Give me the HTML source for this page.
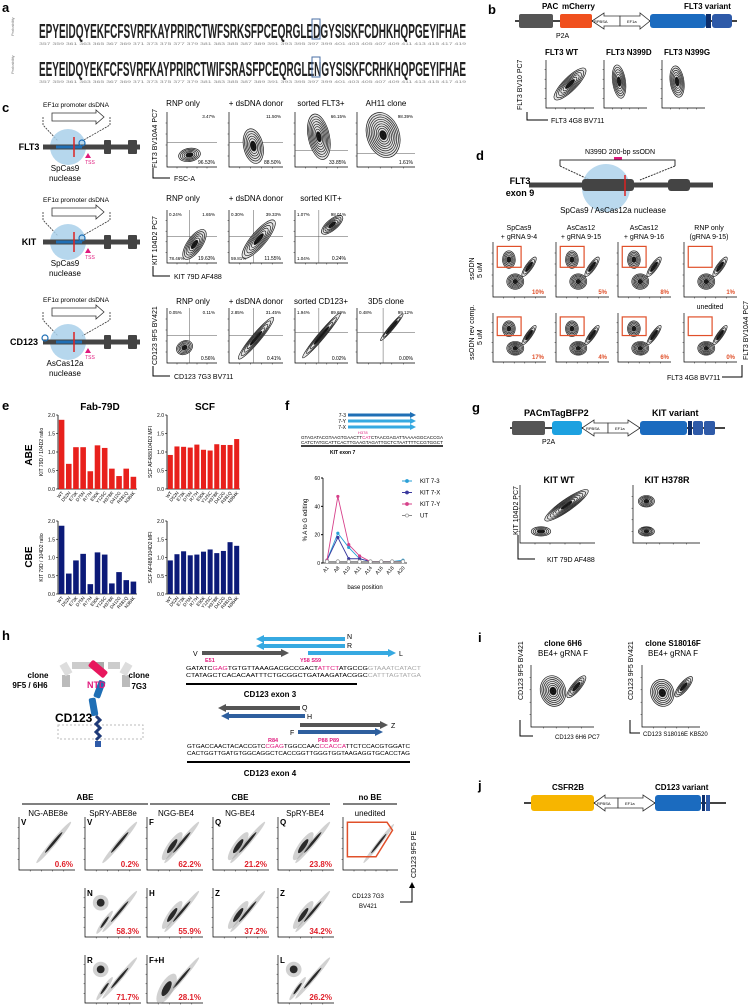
<!DOCTYPE html>
<html><head><meta charset="utf-8">
<style>
html,body{margin:0;padding:0;background:#fff;}
svg{display:block;font-family:"Liberation Sans",sans-serif;}
.lbl{font-weight:bold;font-size:13px;}
.t7{font-size:7px;}
.t8{font-size:8px;}
.t9{font-size:9px;}
.b{font-weight:bold;}
.pk{fill:#e0197d;}
</style></head>
<body>
<svg id="fig" width="750" height="1008" viewBox="0 0 750 1008">
<!-- panel a -->
<g>
<text x="2" y="12" class="lbl">a</text>
<text x="39" y="38" font-size="20" font-weight="bold" textLength="427" lengthAdjust="spacingAndGlyphs" fill="#222">EPYEIDQYEKFCFSVRFKAYPRIRCTWFSRKSFPCEQRGLEDGYSISKFCDHKHQPGEYIFHAE</text>
<text x="39" y="45" font-size="4" fill="#888" textLength="427" lengthAdjust="spacingAndGlyphs">357 359 361 363 365 367 369 371 373 375 377 379 381 383 385 387 389 391 393 395 397 399 401 403 405 407 409 411 413 415 417 419</text>
<text x="39" y="76" font-size="20" font-weight="bold" textLength="427" lengthAdjust="spacingAndGlyphs" fill="#222">EEYEIDQYEKFCFSVRFKAYPRIRCTWIFSRASFPCEQRGLENGYSISKFCRHKHQPGEYIFHAE</text>
<text x="39" y="83" font-size="4" fill="#888" textLength="427" lengthAdjust="spacingAndGlyphs">357 359 361 363 365 367 369 371 373 375 377 379 381 383 385 387 389 391 393 395 397 399 401 403 405 407 409 411 413 415 417 419</text>
<rect x="312" y="19" width="8" height="20" fill="none" stroke="#4a6fa5"/>
<rect x="312" y="57" width="8" height="20" fill="none" stroke="#4a6fa5"/>
<text x="14" y="36" font-size="4" fill="#777" transform="rotate(-90 14 36)">Probability</text>
<text x="14" y="74" font-size="4" fill="#777" transform="rotate(-90 14 74)">Probability</text>
</g>
<!-- panel b -->
<g>
<text x="488" y="14" class="lbl">b</text>
<line x1="515" y1="21" x2="737" y2="21" stroke="#444" stroke-width="2"/>
<rect x="519" y="14" width="34" height="14" rx="2" fill="#555"/>
<rect x="560" y="14" width="32" height="14" rx="2" fill="#f0501e"/>
<path d="M592 21 L604 13 L604 16 L620 16 L620 26 L604 26 L604 29 Z" fill="#fff" stroke="#333" stroke-width=".8"/>
<path d="M620 16 L640 16 L640 13 L650 21 L640 29 L640 26 L620 26 Z" fill="#fff" stroke="#333" stroke-width=".8"/>
<text x="594" y="23" font-size="4">RPBSA</text><text x="627" y="23" font-size="4">EF1a</text>
<rect x="650" y="14" width="56" height="14" rx="3" fill="#1b6bbf"/>
<rect x="706" y="14" width="5" height="14" fill="#0d2e6b"/><rect x="712" y="14" width="20" height="14" rx="3" fill="#2e5aa8"/>
<text x="542" y="9" class="t8 b">PAC</text><text x="562" y="9" class="t8 b">mCherry</text><text x="684" y="9" class="t8 b">FLT3 variant</text>
<text x="556" y="38" class="t7">P2A</text>
<text x="545" y="55" class="t8 b">FLT3 WT</text><text x="606" y="55" class="t8 b">FLT3 N399D</text><text x="664" y="55" class="t8 b">FLT3 N399G</text>
<text x="522" y="110" class="t7" transform="rotate(-90 522 110)">FLT3 BV10 PC7</text>
<path d="M527 112 L527 120 L548 120" fill="none" stroke="#000"/>
<text x="551" y="123" class="t7">FLT3 4G8 BV711</text>
</g>
<!-- panel c -->
<g>
<text x="2" y="112" class="lbl">c</text>
<g id="cdiag"></g>
<text x="183" y="106" class="t8" text-anchor="middle">RNP only</text><text x="256" y="106" class="t8" text-anchor="middle">+ dsDNA donor</text><text x="321" y="106" class="t8" text-anchor="middle">sorted FLT3+</text><text x="386" y="106" class="t8" text-anchor="middle">AH11 clone</text>
<text x="183" y="201" class="t8" text-anchor="middle">RNP only</text><text x="256" y="201" class="t8" text-anchor="middle">+ dsDNA donor</text><text x="321" y="201" class="t8" text-anchor="middle">sorted KIT+</text>
<text x="193" y="304" class="t8" text-anchor="middle">RNP only</text><text x="256" y="304" class="t8" text-anchor="middle">+ dsDNA donor</text><text x="321" y="304" class="t8" text-anchor="middle">sorted CD123+</text><text x="386" y="304" class="t8" text-anchor="middle">3D5 clone</text>
<text x="157" y="168" class="t7" transform="rotate(-90 157 168)">FLT3 BV10A4 PC7</text>
<text x="157" y="265" class="t7" transform="rotate(-90 157 265)">KIT 104D2 PC7</text>
<text x="157" y="365" class="t7" transform="rotate(-90 157 365)">CD123 9F5 BV421</text>
<path d="M153 168 L153 178 L170 178" fill="none" stroke="#000"/><text x="174" y="181" class="t7">FSC-A</text>
<path d="M153 266 L153 276 L170 276" fill="none" stroke="#000"/><text x="174" y="279" class="t7">KIT 79D AF488</text>
<path d="M153 366 L153 376 L170 376" fill="none" stroke="#000"/><text x="174" y="379" class="t7">CD123 7G3 BV711</text>
</g>
<!-- panel d -->
<g>
<text x="476" y="160" class="lbl">d</text>
<text x="620" y="154" class="t7" text-anchor="middle">N399D 200-bp ssODN</text>
<rect x="614" y="157" width="8" height="3" fill="#e0197d"/>
<path d="M560 166 L560 160 L675 160 L675 166" fill="none" stroke="#333"/>
<path d="M560 166 L590 180 M675 166 L640 180" stroke="#333" stroke-dasharray="2,1"/>
<circle cx="606" cy="188" r="24" fill="#a9d0ea" opacity=".8"/>
<line x1="529" y1="185" x2="713" y2="185" stroke="#444" stroke-width="5"/>
<rect x="582" y="179" width="52" height="12" rx="3" fill="#444"/><rect x="668" y="179" width="22" height="12" rx="3" fill="#444"/>
<line x1="625" y1="175" x2="625" y2="196" stroke="#d22" stroke-width="1.5"/>
<text x="520" y="184" class="t9 b" text-anchor="middle">FLT3</text><text x="520" y="196" class="t9 b" text-anchor="middle">exon 9</text>
<text x="613" y="213" class="t8" text-anchor="middle">SpCas9 / AsCas12a nuclease</text>
<text x="519" y="230" class="t7" text-anchor="middle">SpCas9</text><text x="519" y="239" class="t7" text-anchor="middle">+ gRNA 9-4</text>
<text x="581" y="230" class="t7" text-anchor="middle">AsCas12</text><text x="581" y="239" class="t7" text-anchor="middle">+ gRNA 9-15</text>
<text x="644" y="230" class="t7" text-anchor="middle">AsCas12</text><text x="644" y="239" class="t7" text-anchor="middle">+ gRNA 9-16</text>
<text x="709" y="230" class="t7" text-anchor="middle">RNP only</text><text x="709" y="239" class="t7" text-anchor="middle">(gRNA 9-15)</text>
<text x="710" y="309" class="t7" text-anchor="middle">unedited</text>
<text x="474" y="280" class="t7" transform="rotate(-90 474 280)">ssODN</text><text x="482" y="278" class="t7" transform="rotate(-90 482 278)">5 uM</text>
<text x="474" y="360" class="t7" transform="rotate(-90 474 360)">ssODN rev comp.</text><text x="482" y="345" class="t7" transform="rotate(-90 482 345)">5 uM</text>
<text x="667" y="380" class="t7">FLT3 4G8 BV711</text>
<path d="M722 377 L742 377 L742 365" fill="none" stroke="#000"/>
<text x="748" y="360" class="t7" transform="rotate(-90 748 360)">FLT3 BV10A4 PC7</text>
</g>
<!-- panel e -->
<g>
<text x="2" y="410" class="lbl">e</text>
<text x="100" y="410" font-size="10" class="b" text-anchor="middle">Fab-79D</text>
<text x="205" y="410" font-size="10" class="b" text-anchor="middle">SCF</text>
<text x="32" y="455" font-size="10" class="b" transform="rotate(-90 32 455)" text-anchor="middle">ABE</text>
<text x="32" y="557" font-size="10" class="b" transform="rotate(-90 32 557)" text-anchor="middle">CBE</text>
<g id="echarts"></g>
</g>
<!-- panel f -->
<g>
<text x="285" y="410" class="lbl">f</text>
<path d="M348 415 L410 415" stroke="#1f6fb5" stroke-width="3"/><path d="M410 412 L416 415 L410 418Z" fill="#1f6fb5"/>
<path d="M348 421 L410 421" stroke="#36a9e1" stroke-width="3"/><path d="M410 418 L416 421 L410 424Z" fill="#36a9e1"/>
<path d="M348 427 L410 427" stroke="#36a9e1" stroke-width="3"/><path d="M410 424 L416 427 L410 430Z" fill="#36a9e1"/>
<text x="346" y="417" font-size="5" text-anchor="end">7-3</text><text x="346" y="423" font-size="5" text-anchor="end">7-Y</text><text x="346" y="429" font-size="5" text-anchor="end">7-X</text>
<text x="358" y="434" font-size="4" class="pk">H378</text>
<text x="301" y="439" font-size="4.2" textLength="142" lengthAdjust="spacingAndGlyphs">GTAGATACGTAAGTGAACTT<tspan class="pk">CAT</tspan>CTAACGAGATTAAAAGGCACCGA</text>
<text x="301" y="444" font-size="4.2" textLength="142" lengthAdjust="spacingAndGlyphs">CATCTATGCATTCACTTGAAGTAGATTGCTCTAATTTTCCGTGGCT</text>
<line x1="301" y1="446" x2="443" y2="446" stroke="#000" stroke-width="1.5"/>
<text x="330" y="454" font-size="5" class="b">KIT exon 7</text>
<g id="fchart"></g>
</g>
<!-- panel g -->
<g>
<text x="472" y="412" class="lbl">g</text>
<line x1="510" y1="428" x2="725" y2="428" stroke="#444" stroke-width="2"/>
<rect x="512" y="421" width="33" height="14" rx="2" fill="#555"/>
<rect x="552" y="421" width="30" height="14" rx="3" fill="#1da1e0"/>
<path d="M582 428 L594 420 L594 423 L608 423 L608 433 L594 433 L594 436 Z" fill="#fff" stroke="#333" stroke-width=".8"/>
<path d="M608 423 L628 423 L628 420 L640 428 L628 436 L628 433 L608 433 Z" fill="#fff" stroke="#333" stroke-width=".8"/>
<text x="586" y="430" font-size="4">RPBSA</text><text x="615" y="430" font-size="4">EF1a</text>
<rect x="640" y="421" width="47" height="14" rx="3" fill="#1b6bbf"/><rect x="688" y="421" width="4" height="14" fill="#0d2e6b"/><rect x="693" y="421" width="10" height="14" rx="2" fill="#2e5aa8"/><rect x="704" y="421" width="11" height="14" rx="2" fill="#2e5aa8"/>
<text x="524" y="416" class="t9 b">PACmTagBFP2</text><text x="652" y="416" class="t9 b">KIT variant</text>
<text x="542" y="444" class="t7">P2A</text>
<text x="559" y="483" class="t9 b" text-anchor="middle">KIT WT</text><text x="667" y="483" class="t9 b" text-anchor="middle">KIT H378R</text>
<text x="518" y="535" class="t7" transform="rotate(-90 518 535)">KIT 104D2 PC7</text>
<path d="M518 535 L518 559 L535 559" fill="none" stroke="#000"/>
<text x="547" y="562" class="t7">KIT 79D AF488</text>
</g>
<!-- panel h -->
<g>
<text x="2" y="640" class="lbl">h</text>
<g>
<rect x="62" y="675" width="8" height="12" fill="#bbb"/><rect x="62" y="663" width="8" height="12" fill="#ddd" transform="rotate(-30 66 669)"/>
<rect x="72" y="662" width="22" height="7" fill="#ccc"/><rect x="94" y="662" width="10" height="7" fill="#aaa"/>
<rect x="122" y="675" width="8" height="12" fill="#bbb"/><rect x="122" y="663" width="8" height="12" fill="#ddd" transform="rotate(30 126 669)"/>
<rect x="108" y="662" width="12" height="7" fill="#ccc"/>
<rect x="88" y="665" width="20" height="8" rx="2" fill="#e8175d" transform="rotate(40 98 669)"/>
<rect x="96" y="680" width="7" height="18" rx="2" fill="#1f6fb5" transform="rotate(20 99 689)"/>
<rect x="90" y="698" width="7" height="18" rx="2" fill="#1f6fb5" transform="rotate(-10 93 707)"/>
<rect x="58" y="725" width="85" height="14" fill="none" stroke="#bbb" stroke-dasharray="2,2"/>
<path d="M96 716 L100 720 L96 724 L100 728 L96 732 L100 736 L96 740" fill="none" stroke="#1e3a78" stroke-width="3"/>
<rect x="95" y="741" width="6" height="6" fill="#2e5aa8"/>
<text x="55" y="722" font-size="12" class="b">CD123</text>
<text x="87" y="688" class="t9 b pk">NTD</text>
<text x="38" y="678" class="t8 b" text-anchor="middle">clone</text><text x="30" y="688" class="t8 b" text-anchor="middle">9F5 /  6H6</text>
<text x="139" y="678" class="t8 b" text-anchor="middle">clone</text><text x="139" y="689" class="t8 b" text-anchor="middle">7G3</text>
</g>
<g>
<path d="M345 639 L263 639" stroke="#36a9e1" stroke-width="4"/><path d="M264 635 L256 639 L264 643Z" fill="#36a9e1"/><text x="347" y="639" class="t7">N</text>
<path d="M345 646 L263 646" stroke="#36a9e1" stroke-width="4"/><path d="M264 642 L256 646 L264 650Z" fill="#36a9e1"/><text x="347" y="648" class="t7">R</text>
<path d="M202 653 L282 653" stroke="#555" stroke-width="4"/><path d="M281 649 L289 653 L281 657Z" fill="#555"/><text x="193" y="656" class="t7">V</text>
<path d="M308 653 L389 653" stroke="#36a9e1" stroke-width="4"/><path d="M388 649 L396 653 L388 657Z" fill="#36a9e1"/><text x="399" y="656" class="t7">L</text>
<text x="205" y="662" font-size="5.5" class="b pk">E51</text><text x="300" y="662" font-size="5.5" class="b pk">Y58 S59</text>
<text x="186" y="670" font-size="5.5" textLength="235" lengthAdjust="spacingAndGlyphs">GATATC<tspan class="pk">GAG</tspan>TGTGTTAAAGACGCCGACT<tspan class="pk">ATTCT</tspan>ATGCCG<tspan fill="#aaa">GTAAATCATACT</tspan></text>
<text x="186" y="677" font-size="5.5" textLength="235" lengthAdjust="spacingAndGlyphs">CTATAGCTCACACAATTTCTGCGGCTGATAAGATACGGC<tspan fill="#aaa">CATTTAGTATGA</tspan></text>
<line x1="186" y1="684" x2="357" y2="684" stroke="#000" stroke-width="2"/>
<text x="270" y="697" class="t8 b" text-anchor="middle">CD123 exon 3</text>
</g>
<g>
<path d="M300 708 L225 708" stroke="#555" stroke-width="4"/><path d="M226 704 L218 708 L226 712Z" fill="#555"/><text x="302" y="710" class="t7">Q</text>
<path d="M305 716 L228 716" stroke="#2e5f9e" stroke-width="4"/><path d="M229 712 L221 716 L229 720Z" fill="#2e5f9e"/><text x="307" y="719" class="t7">H</text>
<path d="M300 725 L381 725" stroke="#555" stroke-width="4"/><path d="M380 721 L388 725 L380 729Z" fill="#555"/><text x="391" y="728" class="t7">Z</text>
<path d="M298 732 L376 732" stroke="#2e5f9e" stroke-width="4"/><path d="M375 728 L383 732 L375 736Z" fill="#2e5f9e"/><text x="290" y="735" class="t7">F</text>
<text x="268" y="742" font-size="5.5" class="b pk">R84</text><text x="318" y="742" font-size="5.5" class="b pk">P88 P89</text>
<text x="187" y="748" font-size="5.5" textLength="223" lengthAdjust="spacingAndGlyphs">GTGACCAACTACACCGTC<tspan class="pk">CGAG</tspan>TGGCCAAC<tspan class="pk">CCACCA</tspan>TTCTCCACGTGGATC</text>
<text x="187" y="755" font-size="5.5" textLength="223" lengthAdjust="spacingAndGlyphs">CACTGGTTGATGTGGCAGGCTCACCGGTTGGGTGGTAAGAGGTGCACCTAG</text>
<line x1="187" y1="762" x2="410" y2="762" stroke="#000" stroke-width="2"/>
<text x="270" y="776" class="t8 b" text-anchor="middle">CD123 exon 4</text>
</g>
<text x="85" y="800" class="t8 b" text-anchor="middle">ABE</text><line x1="22" y1="804" x2="148" y2="804" stroke="#000"/>
<text x="240" y="800" class="t8 b" text-anchor="middle">CBE</text><line x1="150" y1="804" x2="330" y2="804" stroke="#000"/>
<text x="370" y="800" class="t8 b" text-anchor="middle">no BE</text><line x1="343" y1="804" x2="397" y2="804" stroke="#000"/>
<text x="48" y="816" class="t8" text-anchor="middle">NG-ABE8e</text><text x="113" y="816" class="t8" text-anchor="middle">SpRY-ABE8e</text><text x="176" y="816" class="t8" text-anchor="middle">NGG-BE4</text><text x="240" y="816" class="t8" text-anchor="middle">NG-BE4</text><text x="305" y="816" class="t8" text-anchor="middle">SpRY-BE4</text><text x="370" y="816" class="t8" text-anchor="middle">unedited</text>
<text x="416" y="878" class="t7" transform="rotate(-90 416 878)">CD123 9F5 PE</text>
<path d="M400 902 L412 902 L412 886" fill="none" stroke="#000"/><path d="M409 888 L412 882 L415 888Z"/>
<text x="368" y="898" font-size="6" text-anchor="middle">CD123 7G3</text><text x="368" y="908" font-size="6" text-anchor="middle">BV421</text>
</g>
<!-- panel i -->
<g>
<text x="478" y="642" class="lbl">i</text>
<text x="563" y="646" class="t8 b" text-anchor="middle">clone 6H6</text><text x="563" y="656" class="t8" text-anchor="middle">BE4+ gRNA F</text>
<text x="673" y="646" class="t8 b" text-anchor="middle">clone S18016F</text><text x="673" y="656" class="t8" text-anchor="middle">BE4+ gRNA F</text>
<text x="523" y="700" class="t7" transform="rotate(-90 523 700)">CD123 9F5 BV421</text>
<text x="633" y="700" class="t7" transform="rotate(-90 633 700)">CD123 9F5 BV421</text>
<path d="M520 720 L520 736 L533 736" fill="none" stroke="#000"/><text x="555" y="739" font-size="6">CD123 6H6 PC7</text>
<path d="M630 720 L630 733 L640 733" fill="none" stroke="#000"/><text x="643" y="736" font-size="6">CD123 S18016E KB520</text>
</g>
<!-- panel j -->
<g>
<text x="478" y="790" class="lbl">j</text>
<line x1="524" y1="803" x2="726" y2="803" stroke="#444" stroke-width="2"/>
<rect x="531" y="795" width="63" height="16" rx="3" fill="#f7b500"/>
<path d="M594 803 L605 795 L605 798 L618 798 L618 808 L605 808 L605 811 Z" fill="#fff" stroke="#333" stroke-width=".8"/>
<path d="M618 798 L643 798 L643 795 L655 803 L643 811 L643 808 L618 808 Z" fill="#fff" stroke="#333" stroke-width=".8"/>
<text x="597" y="805" font-size="4">RPBSA</text><text x="625" y="805" font-size="4">EF1a</text>
<rect x="655" y="795" width="46" height="16" rx="3" fill="#1b6bbf"/>
<rect x="702" y="795" width="3" height="16" fill="#0d2e6b"/><rect x="706" y="795" width="4" height="16" fill="#2e5aa8"/>
<text x="552" y="790" class="t8 b">CSFR2B</text><text x="655" y="790" class="t8 b">CD123 variant</text>
</g>
<g id="flows"></g>
</svg>
<script>
const NS="http://www.w3.org/2000/svg";
function mk(tag,attrs,parent){const e=document.createElementNS(NS,tag);for(const k in attrs)e.setAttribute(k,attrs[k]);parent.appendChild(e);return e;}

// ---- panel e data ----
const eCats=["WT","D52N","E73K","D75N","R77H","E90K","Y125C","H378R","D412G","R381Q","N384K"];
const abeFab=[1.87,0.68,1.13,1.13,0.48,1.18,1.11,0.55,0.35,0.55,0.33];
const abeScf=[0.92,1.15,1.14,1.12,1.20,1.06,1.04,1.21,1.19,1.19,1.35];
const cbeFab=[1.87,0.56,0.92,1.10,0.27,1.14,1.08,0.29,0.60,0.38,0.34];
const cbeScf=[0.92,1.09,1.17,1.06,1.08,1.16,1.22,1.12,1.18,1.42,1.32];
const eTicks=[0,0.5,1.0,1.5,2.0];

// ---- panel f data ----
const fBases=["A1","A8","A10","A11","A14","A16","A18","A20"];
const kit73=[2,21,11,3,1,1,1,2];
const kit7x=[2,18,3,3,1,1,1,1];
const kit7y=[2,47,13,5,1,1,1,1];
const utVals=[1,1,1,1,1,1,1,1];
const fTicks=[0,20,40,60];

const eg=document.getElementById('echarts');
function barChart(x0,x1,yTop,yBot,vals,color,ylab,name){
  const g=mk('g',{},eg);
  
  
  const y=v=>yBot-(v/2.0)*(yBot-yTop);
  const bw=(x1-x0)/vals.length;
  mk('line',{x1:x0,y1:yTop,x2:x0,y2:yBot,stroke:'#000','stroke-width':0.8},g);
  mk('line',{x1:x0,y1:yBot,x2:x1,y2:yBot,stroke:'#000','stroke-width':0.8},g);
  eTicks.forEach(t=>{
    mk('line',{x1:x0-2,y1:y(t),x2:x0,y2:y(t),stroke:'#000','stroke-width':0.6},g);
    const tx=mk('text',{x:x0-3,y:y(t)+2,'font-size':5,'text-anchor':'end'},g);tx.textContent=t.toFixed(1);
  });
  vals.forEach((v,i)=>{
    const r=mk('rect',{x:x0+i*bw+0.8,y:y(v),width:bw-1.6,height:yBot-y(v),fill:color},g);
    
    
    const cx=x0+i*bw+bw/2;
    const tl=mk('text',{x:cx+2,y:yBot+4,'font-size':4.5,'text-anchor':'end',transform:`rotate(-50 ${cx+2} ${yBot+4})`},g);tl.textContent=eCats[i];
  });
  const yl=mk('text',{x:x0-15,y:(yTop+yBot)/2,'font-size':5,'text-anchor':'middle',transform:`rotate(-90 ${x0-15} ${(yTop+yBot)/2})`},g);yl.textContent=ylab;
}
barChart(58,137,415,489,abeFab,'#e8201c','KIT 79D / 104D2 ratio','abe-fab-chart');
barChart(167,240,415,489,abeScf,'#e8201c','SCF AF488/104D2 MFI','abe-scf-chart');
barChart(58,137,521,594,cbeFab,'#0c1a78','KIT 79D / 104D2 ratio','cbe-fab-chart');
barChart(167,240,521,594,cbeScf,'#0c1a78','SCF AF488/104D2 MFI','cbe-scf-chart');

// line chart f
const fg=document.getElementById('fchart');
(function(){
  const x0=323,x1=407,yTop=478,yBot=563;
  const fy=v=>yBot-(v/60)*(yBot-yTop);
  const fx=i=>x0+4+i*((x1-x0-8)/(fBases.length-1));
  mk('line',{x1:x0,y1:yTop,x2:x0,y2:yBot,stroke:'#000','stroke-width':0.8},fg);
  mk('line',{x1:x0,y1:yBot,x2:x1,y2:yBot,stroke:'#000','stroke-width':0.8},fg);
  fTicks.forEach(t=>{mk('line',{x1:x0-2,y1:fy(t),x2:x0,y2:fy(t),stroke:'#000'},fg);const tx=mk('text',{x:x0-3,y:fy(t)+2,'font-size':5,'text-anchor':'end'},fg);tx.textContent=t;});
  fBases.forEach((b,i)=>{const tx=mk('text',{x:fx(i)+2,y:yBot+5,'font-size':5,'text-anchor':'end',transform:`rotate(-50 ${fx(i)+2} ${yBot+5})`},fg);tx.textContent=b;});
  const yl=mk('text',{x:307,y:520,'font-size':6,'text-anchor':'middle',transform:'rotate(-90 307 520)'},fg);yl.textContent='% A to G editing';
  const xl=mk('text',{x:365,y:589,'font-size':6,'text-anchor':'middle'},fg);xl.textContent='base position';
  const series=[[kit73,'#2a9fd6','KIT 7-3','circle'],[kit7x,'#3b3a9e','KIT 7-X','tri'],[kit7y,'#d6408a','KIT 7-Y','star'],[utVals,'#888','UT','open']];
  series.forEach((s,k)=>{
    const [vals,col,name,mkType]=s;
    const pts=vals.map((v,i)=>fx(i)+','+fy(v)).join(' ');
    const pl=mk('polyline',{points:pts,fill:'none',stroke:col,'stroke-width':0.9},fg);
    
    
    vals.forEach((v,i)=>{
      if(mkType==='open')mk('circle',{cx:fx(i),cy:fy(v),r:1.8,fill:'#fff',stroke:col,'stroke-width':.7},fg);
      else mk('circle',{cx:fx(i),cy:fy(v),r:1.6,fill:col},fg);
    });
    const ly=483+k*11.5;
    mk('line',{x1:402,y1:ly-2,x2:412,y2:ly-2,stroke:col},fg);
    mk('circle',{cx:407,cy:ly-2,r:1.6,fill:mkType==='open'?'#fff':col,stroke:col,'stroke-width':.6},fg);
    const lt=mk('text',{x:420,y:ly,'font-size':6},fg);lt.textContent=name;
  });
})();

// c diagrams
const cd=document.getElementById('cdiag');
[[147,'FLT3',107,'SpCas9',false],[242,'KIT',202,'SpCas9',false],[342,'CD123',302,'AsCas12a',true]].forEach(r=>{
  const [y,name,ty,nuc,left]=r;
  const g=mk('g',{},cd);
  
  
  let t=mk('text',{x:76,y:ty,'font-size':6.5,'text-anchor':'middle'},g);t.textContent='EF1\u03b1 promoter dsDNA';
  mk('path',{d:`M52 ${ty+6} L96 ${ty+6} L96 ${ty+3} L104 ${ty+10} L96 ${ty+17} L96 ${ty+14} L52 ${ty+14} Z`,fill:'#fff',stroke:'#333','stroke-width':.8},g);
  mk('path',{d:`M43 ${ty+10} L43 ${ty+18} L58 ${y-6} M110 ${ty+10} L110 ${ty+18} L82 ${y-6}`,fill:'none',stroke:'#333','stroke-dasharray':'2,1','stroke-width':.8},g);
  mk('circle',{cx:68,cy:y,r:18,fill:'#a9d0ea',opacity:.85},g);
  mk('line',{x1:43,y1:y,x2:140,y2:y,stroke:'#444','stroke-width':5},g);
  mk('rect',{x:104,y:y-7,width:7,height:14,rx:1,fill:'#444'},g);
  mk('rect',{x:128,y:y-7,width:9,height:14,rx:1,fill:'#444'},g);
  mk('line',{x1:56,y1:y,x2:82,y2:y,stroke:'#1f6fb5','stroke-width':3},g);
  mk('line',{x1:74,y1:y-10,x2:74,y2:y+10,stroke:'#d22','stroke-width':1.5},g);
  mk('circle',{cx:left?45:82,cy:y-4,r:3,fill:'none',stroke:'#1f6fb5','stroke-width':1.2},g);
  mk('path',{d:`M88 ${y+6} L91 ${y+11} L85 ${y+11}Z`,fill:'#e0197d'},g);
  t=mk('text',{x:90,y:y+17,'font-size':5,'text-anchor':'middle',fill:'#e0197d'},g);t.textContent='TSS';
  t=mk('text',{x:name==='CD123'?24:29,y:y+3,'font-size':9,'font-weight':'bold','text-anchor':'middle'},g);t.textContent=name;
  t=mk('text',{x:65,y:y+24,'font-size':8,'text-anchor':'middle'},g);t.textContent=nuc;
  t=mk('text',{x:65,y:y+34,'font-size':8,'text-anchor':'middle'},g);t.textContent='nuclease';
});

// flow plots (illustrative)
const fl=document.getElementById('flows');
function flow(name,x,y,w,h,blobs,opt){
  opt=opt||{};
  const g=mk('g',{},fl);
  
  
  mk('path',{d:`M${x} ${y} L${x} ${y+h} L${x+w} ${y+h}`,fill:'none',stroke:'#000','stroke-width':.7},g);
  for(let i=1;i<5;i++){mk('line',{x1:x-1.5,y1:y+h*i/5,x2:x,y2:y+h*i/5,stroke:'#000','stroke-width':.4},g);mk('line',{x1:x+w*i/5,y1:y+h,x2:x+w*i/5,y2:y+h+1.5,stroke:'#000','stroke-width':.4},g);}
  if(opt.q){if(opt.q[1]!=null)mk('line',{x1:x,y1:y+h*opt.q[1],x2:x+w,y2:y+h*opt.q[1],stroke:'#555','stroke-width':.5},g);if(opt.q[0]!=null)mk('line',{x1:x+w*opt.q[0],y1:y,x2:x+w*opt.q[0],y2:y+h,stroke:'#555','stroke-width':.5},g);}
  blobs.forEach(b=>{
    const [fx,fy,rx,ry,rot,n,solid]=b;
    const cx=x+w*fx,cy=y+h*fy;
    for(let k=0;k<n;k++){
      const s=1-k/n;
      const last=k===n-1;
      let fill,op,stroke;
      if(solid){fill=k===0?'#999':'#000';op=k===0?.45:.8;stroke='none';}
      else{fill=last||k>=n-2?'#111':(k===0?'#e4e4e4':'none');op=1;stroke='#222';}
      mk('ellipse',{cx:cx,cy:cy,rx:rx*w*s,ry:ry*h*s,transform:`rotate(${rot} ${cx} ${cy})`,fill:fill,'fill-opacity':op,stroke:stroke,'stroke-width':.7},g);
    }
  });
  if(opt.gate){const gt=opt.gate;mk('rect',{x:x+w*gt[0],y:y+h*gt[1],width:w*gt[2],height:h*gt[3],fill:'none',stroke:'#e0502a','stroke-width':1.2},g);}
  if(opt.poly){mk('path',{d:opt.poly.map((p,i)=>(i?'L':'M')+(x+w*p[0])+' '+(y+h*p[1])).join(' ')+'Z',fill:'none',stroke:'#e0502a','stroke-width':1.5},g);}
  if(opt.pct){const t=mk('text',{x:x+w-2,y:y+h-3,'font-size':opt.ps||5,'text-anchor':'end',fill:opt.pc||'#000','font-weight':opt.pc?'bold':'normal'},g);t.textContent=opt.pct;}
  if(opt.tl){const t=mk('text',{x:x+2,y:y+6,'font-size':opt.ps||4.5},g);t.textContent=opt.tl;}
  if(opt.tr){const t=mk('text',{x:x+w-2,y:y+6,'font-size':4.5,'text-anchor':'end'},g);t.textContent=opt.tr;}
  if(opt.bl){const t=mk('text',{x:x+2,y:y+h-3,'font-size':4.5},g);t.textContent=opt.bl;}
  if(opt.letter){const t=mk('text',{x:x+2,y:y+8,'font-size':8,'font-weight':'bold'},g);t.textContent=opt.letter;}
}
// b
flow('flow-flt3-wt',546,60,48,48,[[0.5,0.5,0.45,0.14,-45,7]]);
flow('flow-flt3-n399d',604,60,43,48,[[0.35,0.45,0.15,0.35,-8,7]]);
flow('flow-flt3-n399g',662,60,43,48,[[0.35,0.45,0.16,0.33,-8,7]]);
// c FLT3
const cx=[167,229,295,357],cw=[50,54,53,58];
flow('flow-flt3-rnp',cx[0],112,cw[0],55,[[0.45,0.78,0.22,0.12,-10,6]],{q:[null,0.55],tr:'3.47%',pct:'96.53%'});
flow('flow-flt3-donor',cx[1],112,cw[1],55,[[0.45,0.62,0.18,0.32,-12,7]],{q:[null,0.55],tr:'11.50%',pct:'88.50%'});
flow('flow-flt3-sorted',cx[2],112,cw[2],55,[[0.45,0.45,0.2,0.42,-12,9]],{q:[null,0.7],tr:'66.15%',pct:'33.85%'});
flow('flow-flt3-ah11',cx[3],112,cw[3],55,[[0.45,0.42,0.28,0.42,-18,10]],{q:[null,0.75],tr:'98.39%',pct:'1.61%'});
// KIT
flow('flow-kit-rnp',cx[0],210,cw[0],53,[[0.55,0.65,0.35,0.14,-55,7]],{q:[0.45,0.5],tl:'0.24%',tr:'1.65%',bl:'78.46%',pct:'19.63%'});
flow('flow-kit-donor',cx[1],210,cw[1],53,[[0.55,0.55,0.45,0.14,-50,7]],{q:[0.45,0.5],tl:'0.30%',tr:'39.33%',bl:'59.81%',pct:'11.55%'});
flow('flow-kit-sorted',cx[2],210,cw[2],53,[[0.7,0.28,0.25,0.1,-40,6]],{q:[0.45,0.5],tl:'1.07%',tr:'98.01%',bl:'1.04%',pct:'0.24%'});
// CD123
flow('flow-cd123-rnp',cx[0],308,cw[0],55,[[0.35,0.72,0.17,0.12,-30,6]],{q:[0.45,0.5],tl:'0.05%',tr:'0.11%',pct:'0.56%'});
flow('flow-cd123-donor',cx[1],308,cw[1],55,[[0.5,0.55,0.5,0.08,-50,6]],{q:[0.45,0.5],tl:'2.85%',tr:'31.45%',pct:'0.41%'});
flow('flow-cd123-sorted',cx[2],308,cw[2],55,[[0.5,0.5,0.55,0.06,-50,5]],{q:[0.45,0.45],tl:'1.94%',tr:'89.69%',pct:'0.02%'});
flow('flow-cd123-3d5',cx[3],308,cw[3],55,[[0.6,0.35,0.3,0.04,-50,4]],{q:[0.45,0.45],tl:'0.48%',tr:'99.12%',pct:'0.00%'});
// d
const dx=[493,556,618,684],dp1=['10%','5%','8%','1%'],dp2=['17%','4%','6%','0%'];
dx.forEach((x,i)=>{
  flow('flow-d-row1-'+(i+1),x,242,53,55,[[0.42,0.72,0.16,0.14,0,7],[0.3,0.32,0.12,0.16,0,i===3?0:6],[0.68,0.45,0.22,0.06,-55,4]],{gate:[0.08,0.08,0.45,0.38],pct:dp1[i],pc:'#e0502a',ps:6});
  flow('flow-d-row2-'+(i+1),x,313,53,49,[[0.42,0.72,0.16,0.14,0,7],[0.3,0.32,0.12,0.16,0,i===3?0:6],[0.68,0.45,0.22,0.06,-55,4]],{gate:[0.08,0.08,0.45,0.38],pct:dp2[i],pc:'#e0502a',ps:6});
});
// g
flow('flow-kit-wt',520,485,75,58,[[0.62,0.35,0.35,0.1,-35,8],[0.28,0.8,0.13,0.08,0,5]]);
flow('flow-kit-h378r',633,485,67,58,[[0.2,0.28,0.12,0.1,0,6],[0.2,0.8,0.12,0.08,0,6]]);
// i
flow('flow-clone-6h6',531,665,63,62,[[0.35,0.42,0.2,0.25,-15,8],[0.72,0.35,0.22,0.07,-50,5]]);
flow('flow-clone-s18016f',642,665,58,62,[[0.35,0.45,0.2,0.22,-15,7],[0.72,0.35,0.22,0.07,-50,5]]);
// h grid
const hx=[19,85,147,213,278,343],hw=56;
const hy=[817,888,955],hh=[53,49,48];
const hGrid=[
 [0,0,'V','0.6%',0],[1,0,'V','0.2%',0],[2,0,'F','62.2%',1],[3,0,'Q','21.2%',1],[4,0,'Q','23.8%',1],
 [1,1,'N','58.3%',2],[2,1,'H','55.9%',1],[3,1,'Z','37.2%',1],[4,1,'Z','34.2%',1],
 [1,2,'R','71.7%',2],[2,2,'F+H','28.1%',3],[4,2,'L','26.2%',2]];
hGrid.forEach(c=>{
  const [ci,ri,letter,pct,kind]=c;
  const blobs=[[0.62,0.48,0.48,0.05,-50,2,true]];
  if(kind===1)blobs.push([0.45,0.55,0.3,0.09,-55,2,true]);
  if(kind===2){blobs.push([0.28,0.3,0.14,0.16,0,2,true]);blobs.push([0.35,0.7,0.25,0.05,-55,2,true]);}
  if(kind===3)blobs.push([0.35,0.7,0.3,0.14,-60,2,true]);
  flow('flow-h-'+letter.toLowerCase().replace('+','')+'-'+ci+'-'+ri,hx[ci],hy[ri],hw,hh[ri],blobs,{letter:letter,pct:pct,pc:'#e0202a',ps:8});
});
flow('flow-h-unedited',343,817,55,53,[[0.65,0.5,0.45,0.04,-52,2,true]],{poly:[[0.08,0.1],[0.8,0.1],[0.9,0.25],[0.6,0.75],[0.08,0.75]]});
</script>
</body></html>
